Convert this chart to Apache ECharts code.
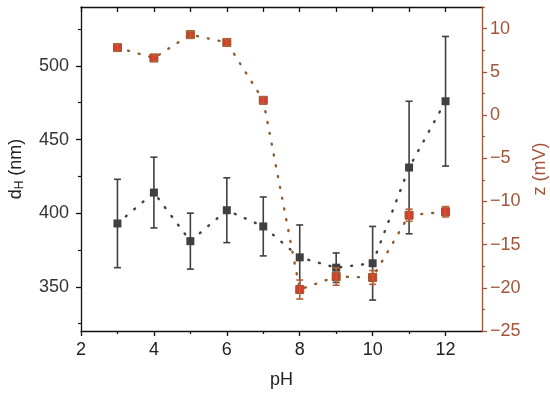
<!DOCTYPE html>
<html><head><meta charset="utf-8">
<script src="https://cdn.jsdelivr.net/npm/echarts@6/dist/echarts.min.js"></script>
<style>html,body{margin:0;padding:0;background:#fff}#c{width:550px;height:396px}</style>
</head><body><div id="c"></div>
<script>
var pH = [3, 4, 5, 6, 7, 8, 9, 10, 11, 12];
var dH = [393, 414, 381, 402, 391, 370, 363, 366, 431, 476];
var dHErr = [30, 24, 19, 22, 20, 22, 10, 25, 45, 44];
var zeta = [7.8, 6.6, 9.3, 8.4, 1.7, -20.2, -18.7, -18.8, -11.6, -11.2];
var zetaErr = [0.4, 0.4, 0.4, 0.4, 0.4, 1.1, 1.0, 0.8, 0.7, 0.6];
var xTicks = [2, 4, 6, 8, 10, 12];
var xMinor = [3, 5, 7, 9, 11];
var xTop = [2, 3, 4, 5, 6, 7, 8, 9, 10, 11, 12];
var yTicks = [350, 400, 450, 500];
var yMinor = [325, 375, 425, 475, 525];
var zTicks = [-25, -20, -15, -10, -5, 0, 5, 10];
var zMinor = [-22.5, -17.5, -12.5, -7.5, -2.5, 2.5, 7.5, 12.5];

var FONT = 'Liberation Sans, Arial, sans-serif';
var FS = 18;
var BLACK = '#404040';
var BROWN = '#a0553a';
var DOT = '#8f5a2c';
var RED = '#dc3b2c';

function pairs(xs, ys) { return xs.map(function (x, i) { return [x, ys[i]]; }); }
function errData(xs, ys, es) { return xs.map(function (x, i) { return [x, ys[i] - es[i], ys[i] + es[i]]; }); }

function errRender(color) {
  return function (params, api) {
    var x = api.value(0), lo = api.value(1), hi = api.value(2);
    var p1 = api.coord([x, lo]), p2 = api.coord([x, hi]);
    var w = 3.5;
    var st = { stroke: color, lineWidth: 1.6 };
    return { type: 'group', children: [
      { type: 'line', shape: { x1: p1[0], y1: p1[1], x2: p2[0], y2: p2[1] }, style: st },
      { type: 'line', shape: { x1: p1[0] - w, y1: p1[1], x2: p1[0] + w, y2: p1[1] }, style: st },
      { type: 'line', shape: { x1: p2[0] - w, y1: p2[1], x2: p2[0] + w, y2: p2[1] }, style: st }
    ]};
  };
}

var gridRect = { left: 81, right: 68, top: 7, bottom: 65, containLabel: false, outerBoundsMode: 'none' };
var chart = echarts.init(document.getElementById('c'), null, { renderer: 'canvas' });
chart.setOption({
  animation: false,
  backgroundColor: '#fff',
  grid: [Object.assign({}, gridRect), Object.assign({}, gridRect)],
  xAxis: [
    { type: 'value', gridIndex: 0, position: 'bottom', min: 2, max: 13,
      axisLine: { show: true, onZero: false, lineStyle: { color: '#111', width: 1.3 } },
      axisTick: { show: true, inside: false, length: 5, customValues: xTicks, lineStyle: { color: '#111', width: 1.3 } },
      axisLabel: { customValues: xTicks, fontSize: FS, color: '#222', fontFamily: FONT, margin: 10 },
      splitLine: { show: false },
      name: 'pH', nameLocation: 'middle', nameGap: 40,
      nameTextStyle: { fontSize: FS, color: '#222', fontFamily: FONT } },
    { type: 'value', gridIndex: 0, position: 'top', min: 2, max: 13,
      axisLine: { show: true, onZero: false, lineStyle: { color: '#111', width: 1.3 } },
      axisTick: { show: true, inside: true, length: 5, customValues: xTop, lineStyle: { color: '#111', width: 1.3 } },
      axisLabel: { show: false }, splitLine: { show: false } },
    { type: 'value', gridIndex: 1, position: 'bottom', min: 2, max: 13,
      axisLine: { show: false, onZero: false },
      axisTick: { show: true, inside: false, length: 3, customValues: xMinor, lineStyle: { color: '#111', width: 1.2 } },
      axisLabel: { show: false }, splitLine: { show: false } }
  ],
  yAxis: [
    { type: 'value', gridIndex: 0, position: 'left', min: 320, max: 540,
      axisLine: { show: true, onZero: false, lineStyle: { color: '#111', width: 1.3 } },
      axisTick: { show: true, inside: false, length: 5, customValues: yTicks, lineStyle: { color: '#111', width: 1.3 } },
      axisLabel: { customValues: yTicks, fontSize: FS, color: '#333', fontFamily: FONT, margin: 12 },
      splitLine: { show: false },
      name: '{a|d}{s|H}{a| (nm)}', nameLocation: 'middle', nameGap: 55, nameRotate: 90,
      nameTextStyle: { rich: {
        a: { fontSize: FS, color: '#222', fontFamily: FONT },
        s: { fontSize: 12, color: '#222', fontFamily: FONT, verticalAlign: 'bottom', padding: [7, 0, 0, 0] } } } },
    { type: 'value', gridIndex: 0, position: 'right', min: -25, max: 12.5,
      axisLine: { show: true, onZero: false, lineStyle: { color: BROWN, width: 1.3 } },
      axisTick: { show: true, inside: false, length: 5, customValues: zTicks, lineStyle: { color: BROWN, width: 1.3 } },
      axisLabel: { customValues: zTicks, fontSize: FS, color: BROWN, fontFamily: FONT, margin: 8,
        formatter: function (v) { return String(v).replace('-', '\u2212'); } },
      splitLine: { show: false },
      name: 'z (mV)', nameLocation: 'middle', nameGap: 45, nameRotate: 90,
      nameTextStyle: { fontSize: FS, color: BROWN, fontFamily: FONT } },
    { type: 'value', gridIndex: 1, position: 'left', min: 320, max: 540,
      axisLine: { show: false, onZero: false },
      axisTick: { show: true, inside: false, length: 3, customValues: yMinor, lineStyle: { color: '#111', width: 1.2 } },
      axisLabel: { show: false }, splitLine: { show: false } },
    { type: 'value', gridIndex: 1, position: 'right', min: -25, max: 12.5,
      axisLine: { show: false, onZero: false },
      axisTick: { show: true, inside: false, length: 3, customValues: zMinor, lineStyle: { color: BROWN, width: 1.2 } },
      axisLabel: { show: false }, splitLine: { show: false } }
  ],
  series: [
    { type: 'line', xAxisIndex: 0, yAxisIndex: 0, data: pairs(pH, dH),
      symbol: 'rect', symbolSize: 8, z: 3,
      itemStyle: { color: BLACK },
      lineStyle: { color: BLACK, width: 2.4, type: [1, 10], cap: 'round' } },
    { type: 'custom', xAxisIndex: 0, yAxisIndex: 0, data: errData(pH, dH, dHErr),
      renderItem: errRender(BLACK), z: 4, encode: { x: 0, y: [1, 2] } },
    { type: 'line', xAxisIndex: 0, yAxisIndex: 1, data: pairs(pH, zeta),
      symbol: 'rect', symbolSize: 8, z: 5,
      itemStyle: { color: RED, borderColor: DOT, borderWidth: 1 },
      lineStyle: { color: DOT, width: 2.4, type: [1, 10], cap: 'round' } },
    { type: 'custom', xAxisIndex: 0, yAxisIndex: 1, data: errData(pH, zeta, zetaErr),
      renderItem: errRender('#b5603a'), z: 6, encode: { x: 0, y: [1, 2] } }
  ]
});
</script></body></html>
